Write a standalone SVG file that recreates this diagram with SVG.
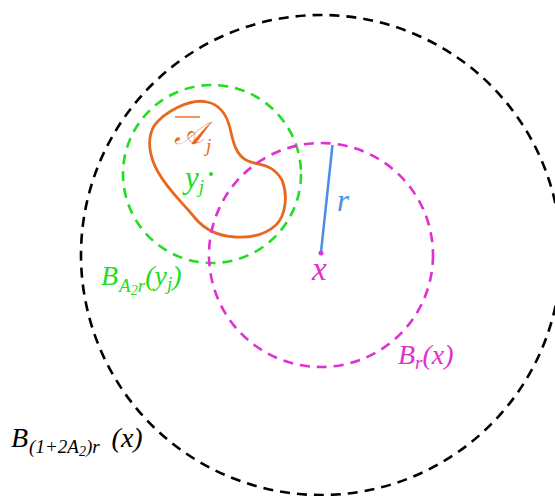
<svg xmlns="http://www.w3.org/2000/svg" width="555" height="496" viewBox="0 0 555 496">
<style>
.c{fill:none;stroke-width:2.6;stroke-dasharray:10 7}
.t{font-family:"Liberation Serif","DejaVu Serif",serif;font-style:italic;font-size:28px}
.s{font-size:19px}
.ss{font-size:14px}
</style>
<rect width="555" height="496" fill="#fff"/>
<g id="ball-big">
<circle class="c" cx="321" cy="255" r="240" stroke="#000"/>
<text class="t" x="11" y="447" fill="#000">B<tspan class="s" dx="1" dy="6">(1+2A</tspan><tspan class="ss" dy="3">2</tspan><tspan class="s" dy="-3">)r</tspan><tspan dy="-6" dx="12">(x)</tspan></text>
</g>
<g id="ball-green">
<circle class="c" cx="212" cy="174" r="89" stroke="#22dd22"/>
<circle cx="211" cy="174" r="2" fill="#22dd22"/>
<text class="t" x="185" y="188" style="font-size:31px" fill="#22dd22">y<tspan class="s" dy="5">j</tspan></text>
<text class="t" x="101" y="285" fill="#22dd22">B<tspan class="s" dx="1" dy="7">A</tspan><tspan class="ss" dy="3">2</tspan><tspan class="s" dy="-3">r</tspan><tspan dy="-7">(y</tspan><tspan class="s" dy="5">j</tspan><tspan dy="-5">)</tspan></text>
</g>
<g id="set-A">
<path d="M207,102 C217,104 226,112 230,128 C233,142 236,156 248,161 C260,166 272,163 282,180 C288,195 286,215 276,225 C265,235 250,238 235,237 C218,236 205,230 195,218 C182,202 168,190 158,172 C150,158 146,140 154,126 C164,112 190,98 207,102 Z" fill="none" stroke="#e8681e" stroke-width="2.8"/>
<line x1="175" y1="117" x2="200" y2="117" stroke="#e8681e" stroke-width="1.4"/>
<text class="t" x="174" y="144" style="font-size:32px" fill="#e8681e">𝒜<tspan class="s" dy="8" dx="2">j</tspan></text>
</g>
<g id="ball-x">
<circle class="c" cx="321" cy="255" r="112" stroke="#e030d0"/>
<circle cx="321" cy="253" r="2.5" fill="#e030d0"/>
<text class="t" x="312" y="280" style="font-size:33px" fill="#e030d0">x</text>
<text class="t" x="398" y="364" fill="#e030d0">B<tspan class="s" dy="5">r</tspan><tspan dy="-5">(x)</tspan></text>
</g>
<g id="connectors">
<line x1="321" y1="252" x2="332.5" y2="145" stroke="#4a90e2" stroke-width="2.5"/>
<text class="t" x="337" y="211" style="font-size:31px" fill="#4a90e2">r</text>
</g>
</svg>
